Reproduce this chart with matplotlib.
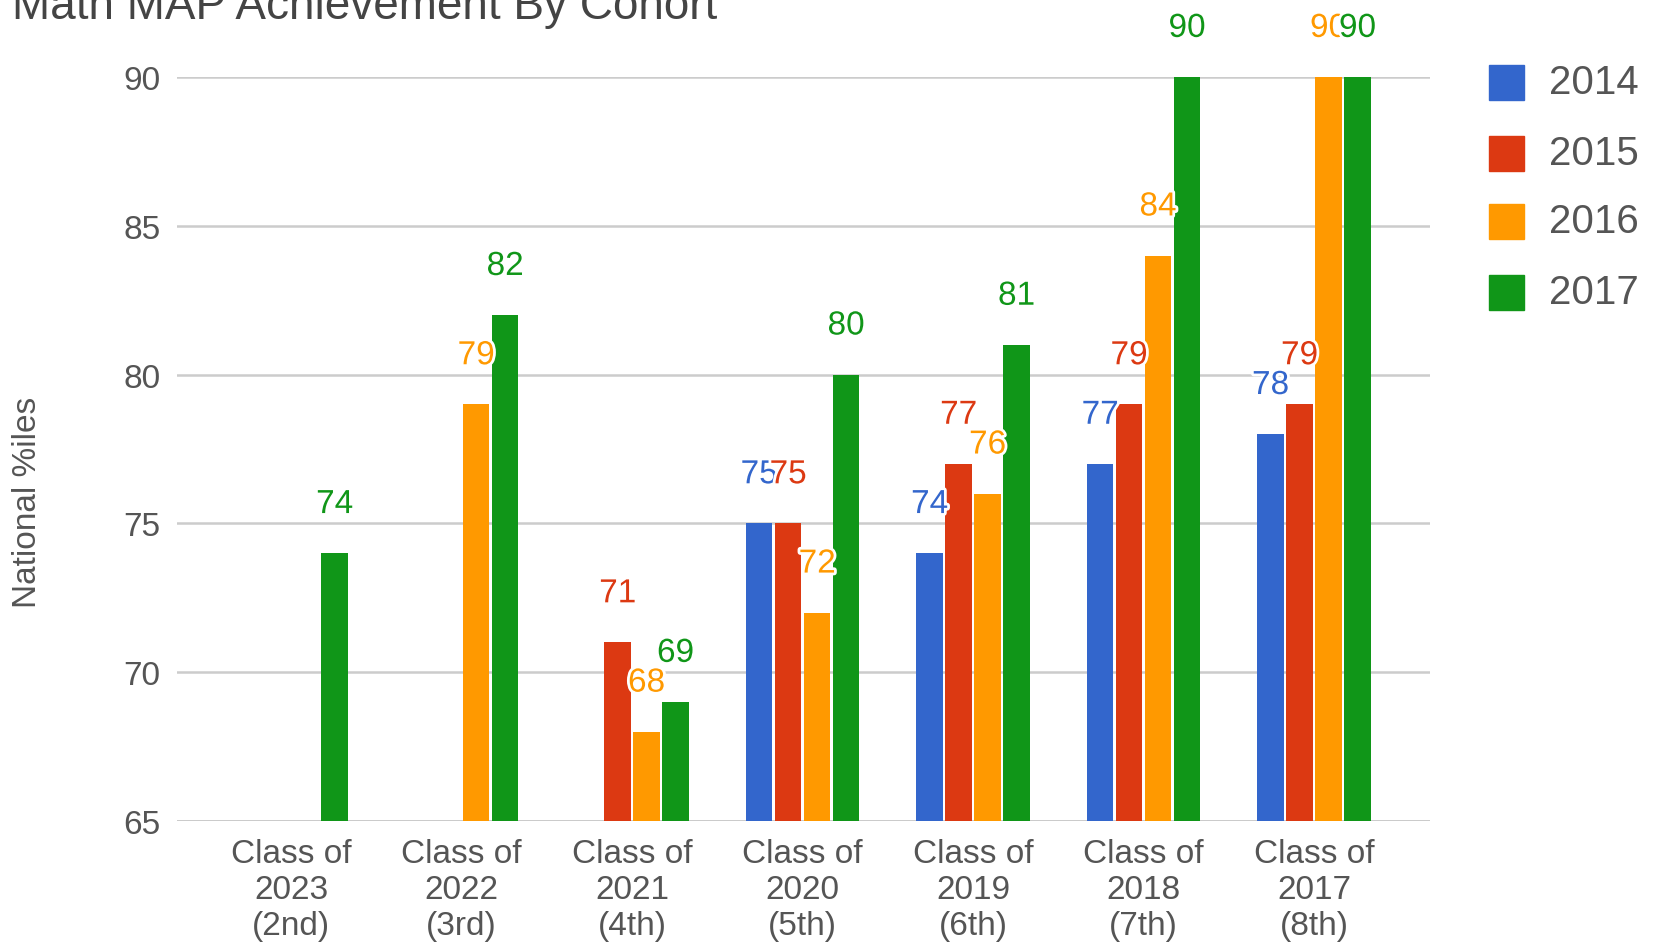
import matplotlib
matplotlib.use('Agg')
import matplotlib.pyplot as plt
import matplotlib.patheffects as pe
from matplotlib.patches import Rectangle
import numpy as np

plt.rcParams['font.family'] = ['Liberation Sans', 'DejaVu Sans']

# data
cohorts = ['Class of\n2023\n(2nd)', 'Class of\n2022\n(3rd)', 'Class of\n2021\n(4th)',
           'Class of\n2020\n(5th)', 'Class of\n2019\n(6th)', 'Class of\n2018\n(7th)',
           'Class of\n2017\n(8th)']
years = ['2014', '2015', '2016', '2017']
y2014 = [np.nan, np.nan, np.nan, 75, 74, 77, 78]
y2015 = [np.nan, np.nan, 71, 75, 77, 79, 79]
y2016 = [np.nan, 79, 68, 72, 76, 84, 90]
y2017 = [74, 82, 69, 80, 81, 90, 90]
series = [y2014, y2015, y2016, y2017]
colors = ['#3366cc', '#dc3912', '#ff9900', '#109618']
yticks = [65, 70, 75, 80, 85, 90]

TXT = '#555555'

fig = plt.figure(figsize=(16.55, 9.45), dpi=100)
ax = fig.add_axes([177 / 1655, 1 - 822 / 945, (1430 - 177) / 1655, (822 - 78) / 945])

x = np.arange(len(cohorts))
step = 0.17
width = 0.155
for i, (vals, col) in enumerate(zip(series, colors)):
    xs = x + (i - 1.5) * step
    vals = np.array(vals, dtype=float)
    ok = ~np.isnan(vals)
    ax.bar(xs[ok], vals[ok] - 65, bottom=65, width=width, color=col, zorder=3)
    # value labels sit a fixed distance above each bar, with a white halo
    for xx, v in zip(xs[ok], vals[ok]):
        ax.annotate('%d' % v, (xx, v), xytext=(0, 35), textcoords='offset points',
                    ha='center', va='center', fontsize=24, color=col,
                    annotation_clip=False, zorder=5,
                    path_effects=[pe.withStroke(linewidth=4, foreground='white')])

ax.set_ylim(65, 90)
ax.set_xlim(-0.67, 6.68)
ax.set_yticks(yticks)
ax.set_yticklabels([str(t) for t in yticks])
ax.set_xticks(x)
ax.set_xticklabels(cohorts, linespacing=1.22)
ax.tick_params(axis='both', length=0, labelsize=24, labelcolor=TXT)
ax.tick_params(axis='y', pad=12)
ax.tick_params(axis='x', pad=12)
for s in ax.spines.values():
    s.set_visible(False)
for t in yticks:
    ax.axhline(t, color='#cccccc' if t > 65 else '#bbbbbb', lw=1.8, zorder=1)

fig.text(12 / 1655, 1 - 19 / 945, 'Math MAP Achievement By Cohort', fontsize=33,
         color='#444444', ha='left', va='baseline')
fig.text(28 / 1655, 1 - 502 / 945, 'National %iles', fontsize=24, color=TXT,
         rotation=90, ha='center', va='center')

# legend
leg_y = [83, 154, 222, 293]
for yr, col, yc in zip(years, colors, leg_y):
    fig.add_artist(Rectangle((1489 / 1655, 1 - (yc + 17.5) / 945), 35 / 1655, 35 / 945,
                             transform=fig.transFigure, color=col))
    fig.text(1549 / 1655, 1 - yc / 945, yr, fontsize=29, color=TXT,
             ha='left', va='center')

fig.savefig('out.png', dpi=100)
